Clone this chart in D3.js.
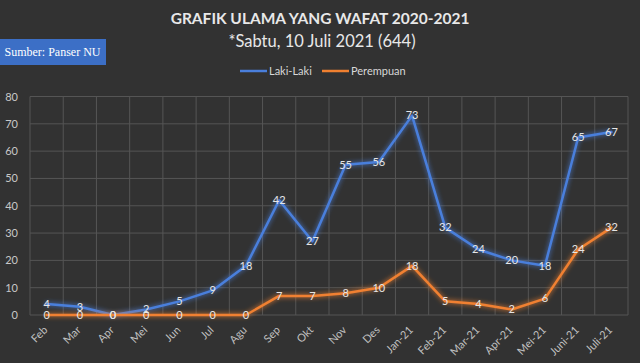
<!DOCTYPE html>
<html><head><meta charset="utf-8">
<script src="https://cdn.jsdelivr.net/npm/d3@7/dist/d3.min.js"></script>
<style>html,body{margin:0;padding:0;background:#323232;}svg{display:block;}</style>
</head><body>
<script>
const categories = ["Feb","Mar","Apr","Mei","Jun","Jul","Agu","Sep","Okt","Nov","Des","Jan-21","Feb-21","Mar-21","Apr-21","Mei-21","Juni-21","Juli-21"];
const lakiLaki = [4,3,0,2,5,9,18,42,27,55,56,73,32,24,20,18,65,67];
const perempuan = [0,0,0,0,0,0,0,7,7,8,10,18,5,4,2,6,24,32];
const yTicks = [0,10,20,30,40,50,60,70,80];
const seriesNames = ["Laki-Laki","Perempuan"];
const titleText = "GRAFIK ULAMA YANG WAFAT 2020-2021";
const subtitleText = "*Sabtu, 10 Juli 2021 (644)";
const sourceText = "Sumber: Panser NU";

(function () {
const W = 640, H = 363;
const svg = d3.select("body").append("svg").attr("width", W).attr("height", H);
svg.append("rect").attr("width", W).attr("height", H).attr("fill", "#323232");

const defs = svg.append("defs");
const f = defs.append("filter").attr("id","glow").attr("x","-20%").attr("y","-20%").attr("width","140%").attr("height","140%");
f.append("feGaussianBlur").attr("stdDeviation", 2.5).attr("result","b");
const m = f.append("feMerge");
m.append("feMergeNode").attr("in","b");
m.append("feMergeNode").attr("in","SourceGraphic");

const pLeft = 30, pRight = 628, pTop = 96.5, pBottom = 315;
const x = d3.scaleBand().domain(categories).range([pLeft, pRight]);
const y = d3.scaleLinear().domain([0, 80]).range([pBottom, pTop]);

const gridColor = "#555555";
svg.append("g").selectAll("line").data(yTicks).join("line")
  .attr("x1", pLeft).attr("x2", pRight).attr("y1", d => y(d)).attr("y2", d => y(d))
  .attr("stroke", gridColor).attr("stroke-width", 1);
const vx = categories.map(c => x(c)).concat([pRight]);
svg.append("g").selectAll("line").data(vx).join("line")
  .attr("x1", d => d).attr("x2", d => d).attr("y1", pTop).attr("y2", pBottom)
  .attr("stroke", gridColor).attr("stroke-width", 1);

const font = "Lato, 'Open Sans', sans-serif";
const yAxis = svg.append("g").attr("transform", `translate(${pLeft},0)`)
  .call(d3.axisLeft(y).tickValues(yTicks).tickSize(0).tickPadding(12));
yAxis.select(".domain").remove();
yAxis.selectAll("text").attr("fill", "#c8c8c8").style("font-family", font).style("font-size", "11px");

const xAxis = svg.append("g").attr("transform", `translate(0,${pBottom})`)
  .call(d3.axisBottom(x).tickSize(0).tickPadding(0));
xAxis.select(".domain").remove();
xAxis.selectAll("text")
  .attr("fill", "#c0c0c0").style("font-family", font).style("font-size", "11px")
  .attr("text-anchor", "end").attr("dy", "0.35em")
  .attr("transform", "translate(-1,13) rotate(-45)");

const cx = d => x(d) + x.bandwidth() / 2;
const line = d3.line().x((d, i) => cx(categories[i])).y(d => y(d));

const colors = ["#4a7fdc", "#f08030"];
const allSeries = [lakiLaki, perempuan];

allSeries.forEach((s, k) => {
  svg.append("path").datum(s).attr("d", line).attr("fill", "none")
    .attr("stroke", colors[k]).attr("stroke-width", 2.5)
    .attr("stroke-linejoin", "round").attr("stroke-linecap", "round")
    .attr("filter", "url(#glow)");
});
allSeries.forEach((s, k) => {
  svg.append("g").selectAll("text").data(s).join("text")
    .attr("x", (d, i) => cx(categories[i])).attr("y", d => y(d))
    .attr("dy", "0.35em").attr("text-anchor", "middle")
    .attr("fill", "#e6e6e6").style("font-family", font).style("font-size", "11px")
    .text(d => d);
});

svg.append("text").attr("x", 320).attr("y", 24).attr("text-anchor", "middle")
  .attr("fill", "#e8e8e8").style("font-family", font)
  .style("font-size", "15.5px").style("font-weight", "bold").text(titleText);
svg.append("text").attr("x", 322).attr("y", 47).attr("text-anchor", "middle")
  .attr("fill", "#e8e8e8").style("font-family", font)
  .style("font-size", "16.5px").text(subtitleText);

const legendX = [240, 322];
seriesNames.forEach((n, k) => {
  svg.append("line").attr("x1", legendX[k]).attr("x2", legendX[k] + 27)
    .attr("y1", 71).attr("y2", 71).attr("stroke", colors[k]).attr("stroke-width", 2.5);
  svg.append("text").attr("x", legendX[k] + 29).attr("y", 71).attr("dy", "0.35em")
    .attr("fill", "#d8d8d8").style("font-family", font).style("font-size", "11px").text(n);
});

svg.append("rect").attr("x", 0).attr("y", 39).attr("width", 106).attr("height", 26).attr("fill", "#3c6fc6");
svg.append("text").attr("x", 52.5).attr("y", 52).attr("dy", "0.35em").attr("text-anchor", "middle")
  .attr("fill", "#ffffff").style("font-family", "'Liberation Serif', serif").style("font-size", "12px").text(sourceText);
})();
</script>
</body></html>
